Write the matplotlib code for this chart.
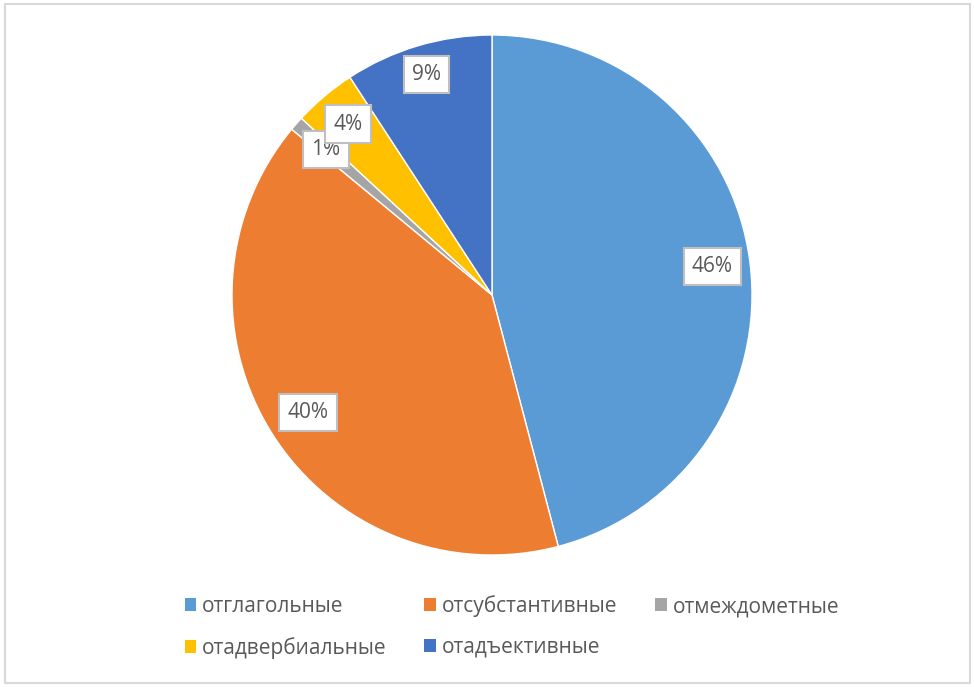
import matplotlib
matplotlib.use("Agg")
import numpy as np
import matplotlib.pyplot as plt
from matplotlib.patches import Rectangle, Patch

plt.rcParams["font.family"] = ["Open Sans", "DejaVu Sans"]

# --- data ---
categories = ["отглагольные", "отсубстантивные", "отмеждометные",
              "отадвербиальные", "отадъективные"]
shares = [45.9, 40.1, 0.9, 3.9, 9.2]
pct_labels = ["46%", "40%", "1%", "4%", "9%"]
colors = ["#5B9BD5", "#ED7D31", "#A5A5A5", "#FFC000", "#4472C4"]
label_r = [0.855, 0.84, 0.85, 0.86, 0.885]


def main():
    W, H = 974, 687
    fig = plt.figure(figsize=(W / 100, H / 100), dpi=100)
    fig.patch.set_facecolor("white")

    # outer frame
    fig.add_artist(Rectangle((5 / W, 4 / H), 965 / W, 679 / H,
                             transform=fig.transFigure, fill=False,
                             edgecolor="#D9D9D9", linewidth=1.5))

    cx, cy, r = 492, H - 295, 260
    ax = fig.add_axes([(cx - r) / W, (cy - r) / H, 2 * r / W, 2 * r / H])
    wedges, _ = ax.pie(shares, colors=colors, startangle=90, counterclock=False,
                       radius=1.0,
                       wedgeprops=dict(edgecolor="white", linewidth=1.0))
    ax.set_xlim(-1, 1)
    ax.set_ylim(-1, 1)
    ax.set_aspect("equal")
    ax.axis("off")

    for w, lab, rr in zip(wedges, pct_labels, label_r):
        ang = np.deg2rad((w.theta1 + w.theta2) / 2)
        ax.text(rr * np.cos(ang), rr * np.sin(ang), lab,
                ha="center", va="center", fontsize=15, color="#595959",
                bbox=dict(boxstyle="square,pad=0.4", facecolor="white",
                          edgecolor="#BFBFBF", linewidth=1.5))

    # legend filled row by row (matplotlib fills column by column)
    handles = [Patch(facecolor=c, edgecolor="none") for c in colors]
    order = [0, 3, 1, 4, 2]
    fig.legend([handles[i] for i in order], [categories[i] for i in order],
               loc="center", bbox_to_anchor=(512 / W, (H - 627) / H), ncol=3,
               frameon=False, fontsize=15, labelcolor="#595959",
               handlelength=0.55, handleheight=0.55, handletextpad=0.3,
               columnspacing=1.8, labelspacing=0.95)

    fig.savefig("out.png", dpi=100, facecolor="white")
    plt.close(fig)


if __name__ == "__main__":
    main()
